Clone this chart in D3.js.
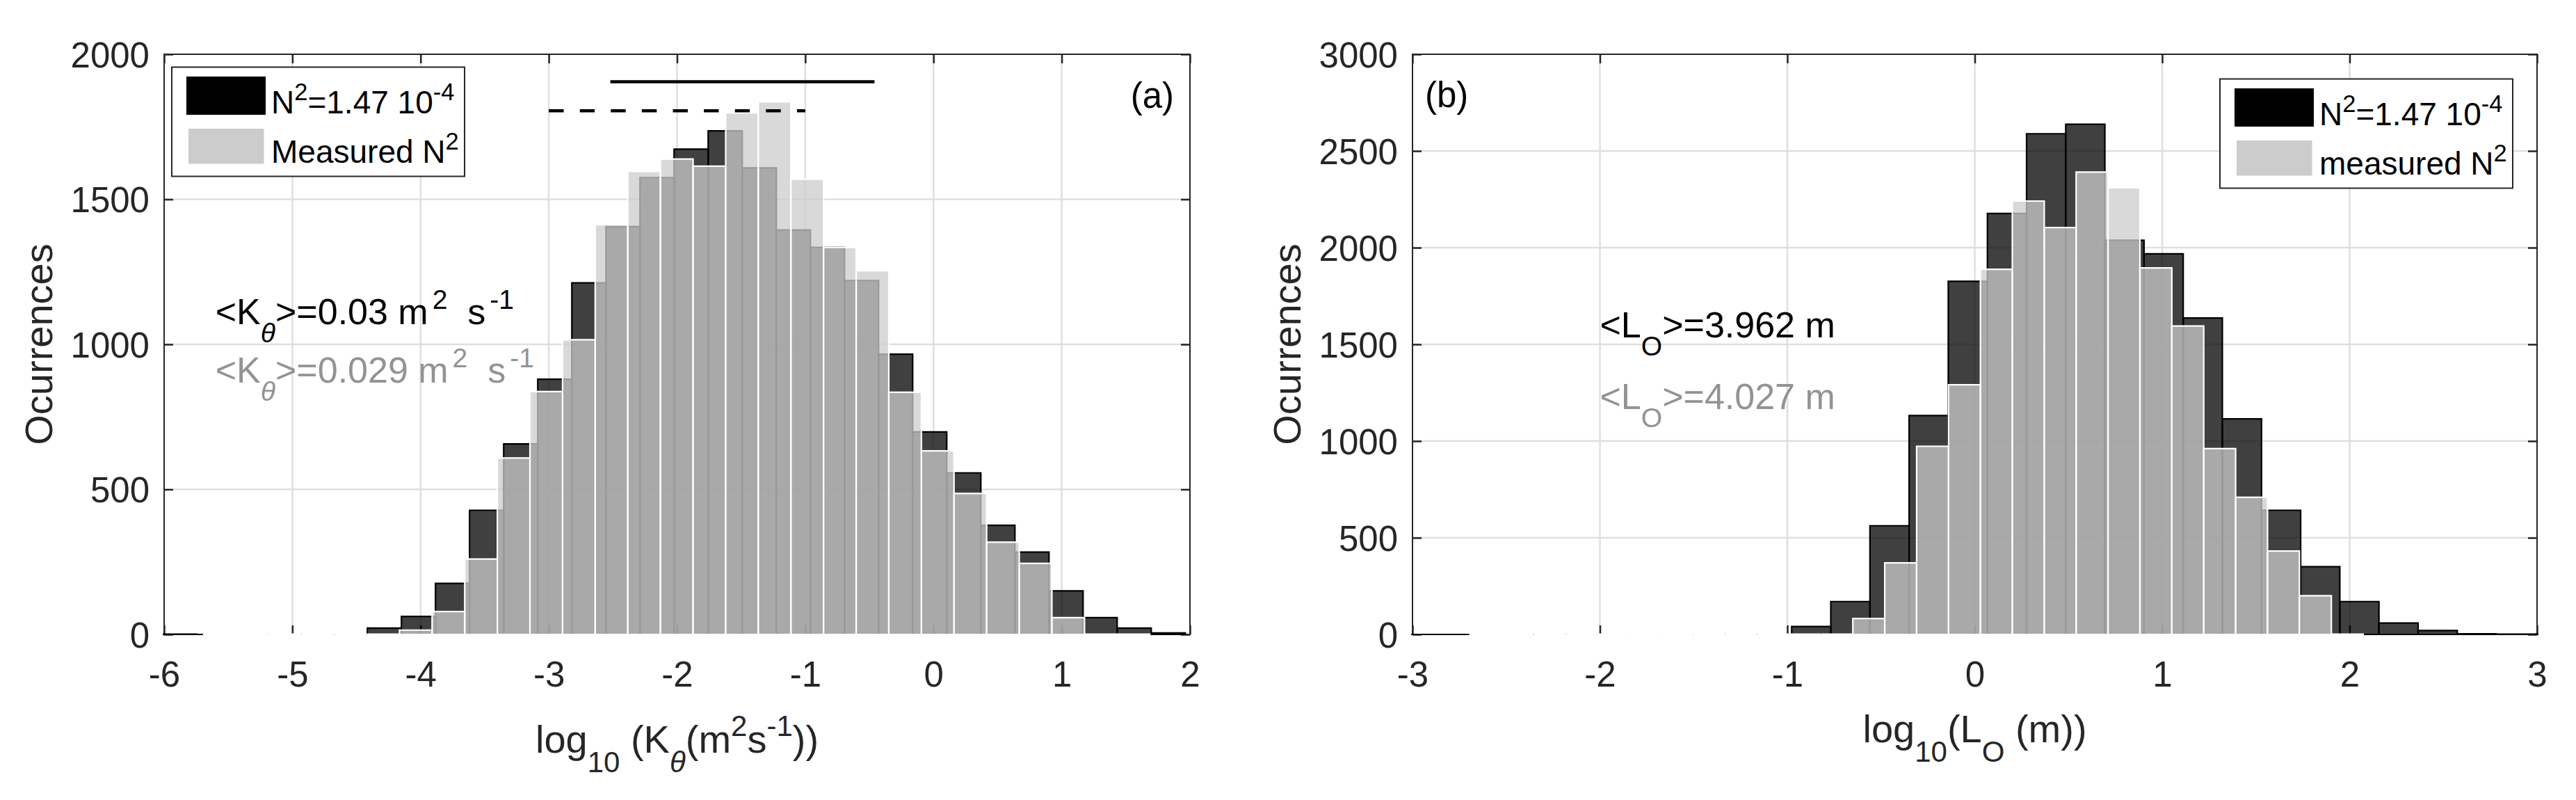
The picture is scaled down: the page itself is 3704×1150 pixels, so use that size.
<!DOCTYPE html>
<html><head><meta charset="utf-8">
<script src="https://cdn.jsdelivr.net/npm/d3@7"></script>
<style>
body{margin:0;background:#fff}
svg{display:block}
text{font-family:"Liberation Sans",Arial,Helvetica,sans-serif;white-space:pre}
</style>
</head><body>
<svg id="c" width="3704" height="1150"></svg>
<script>
// ---------- data : panel (a) ----------
const xTicksA = [-6,-5,-4,-3,-2,-1,0,1,2];
const yTicksA = [0,500,1000,1500,2000];
const darkStartA = -6.01, darkWidthA = 0.2658;
const darkCountsA = [1,0,0,0,0,0,22,62,176,428,657,880,1212,1406,1575,1673,1736,1608,1394,1334,1220,966,698,557,376,284,150,58,22,5];
const lightStartA = -5.691, lightWidthA = 0.2544;
const lightCountsA = [1,0,0,0,0,0,15,79,260,608,837,1016,1412,1596,1639,1614,1798,1836,1569,1334,1254,835,633,486,318,245,58,0,1];
const solidSpanA = [-2.52,-0.46], solidLevelA = 1905;
const dashSpanA = [-3.0,-1.0], dashLevelA = 1805;

// ---------- data : panel (b) ----------
const xTicksB = [-3,-2,-1,0,1,2,3];
const yTicksB = [0,500,1000,1500,2000,2500,3000];
const darkStartB = -3.066, darkWidthB = 0.2089;
const darkCountsB = [0,0,0,0,0,0,0,0,0,0,41,170,562,1132,1826,2177,2589,2638,2038,1968,1636,1115,642,350,170,59,20,3,1,1];
const lightStartB = -2.693, lightWidthB = 0.1702;
const lightCountsB = [1,0,0,0,0,0,0,0,0,0,0,0,82,370,973,1291,1888,2241,2104,2391,2310,1895,1595,961,709,431,200,1];

const legendLabelsA = [[["N"],["2","sup"],["=1.47 10"],["-4","sup"]], [["Measured N"],["2","sup"]]];
const legendLabelsB = [[["N"],["2","sup"],["=1.47 10"],["-4","sup"]], [["measured N"],["2","sup"]]];

// ---------- drawing ----------
const svg = d3.select('#c');
svg.append('rect').attr('width',3704).attr('height',1150).attr('fill','#fff');
const AX = '#262626';
const FS_TICK = 51, FS_LABEL = 56, FS_LEG = 46, FS_ANN = 52;

function rich(sel, parts, fs, supGap){
  let shift = 0;
  const gap = supGap || 0;
  parts.forEach(p => {
    const [t, kind, it] = p;
    const target = kind==='sup' ? -0.42*fs : kind==='sub' ? 0.5*fs : 0;
    const ts = sel.append('tspan').attr('dy', target-shift)
      .attr('font-size', kind ? fs*0.75 : fs).text(t);
    if (kind==='sup' && gap) ts.attr('dx', gap);
    if (it) ts.attr('font-style','italic');
    shift = target;
  });
  return sel;
}

function panel(cfg){
  const g = svg.append('g');
  const x = d3.scaleLinear().domain(cfg.xDomain).range([cfg.left,cfg.right]);
  const y = d3.scaleLinear().domain(cfg.yDomain).range([cfg.bottom,cfg.top]);
  const clipId = 'clip'+cfg.id;
  svg.append('clipPath').attr('id',clipId).append('rect')
    .attr('x',cfg.left-2).attr('y',cfg.top).attr('width',cfg.right-cfg.left+4).attr('height',cfg.bottom-cfg.top+4);

  // grid
  const grid = g.append('g').attr('stroke','#dfdfdf').attr('stroke-width',2.5);
  cfg.xTicks.filter(t=>t>cfg.xDomain[0]&&t<cfg.xDomain[1]).forEach(t=>{
    grid.append('line').attr('x1',x(t)).attr('x2',x(t)).attr('y1',cfg.top).attr('y2',cfg.bottom);
  });
  cfg.yTicks.filter(t=>t>cfg.yDomain[0]&&t<cfg.yDomain[1]).forEach(t=>{
    grid.append('line').attr('y1',y(t)).attr('y2',y(t)).attr('x1',cfg.left).attr('x2',cfg.right);
  });

  // axes (ticks inward on four sides)
  const fmt = d => String(d);
  const styleAxis = a => { a.select('.domain').remove(); a.selectAll('line').attr('stroke-width',2.5); a.attr('color',AX); };
  const ab = g.append('g').attr('transform',`translate(0,${cfg.bottom})`)
    .call(d3.axisBottom(x).tickValues(cfg.xTicks).tickFormat(fmt).tickSizeInner(-13).tickSizeOuter(0).tickPadding(39));
  styleAxis(ab); ab.selectAll('text').attr('font-size',FS_TICK).attr('font-family','"Liberation Sans",Arial,sans-serif').attr('fill',AX);
  const at = g.append('g').attr('transform',`translate(0,${cfg.top})`)
    .call(d3.axisTop(x).tickValues(cfg.xTicks).tickFormat('').tickSizeInner(-13).tickSizeOuter(0));
  styleAxis(at);
  const al = g.append('g').attr('transform',`translate(${cfg.left},0)`)
    .call(d3.axisLeft(y).tickValues(cfg.yTicks).tickFormat(fmt).tickSizeInner(-13).tickSizeOuter(0).tickPadding(21));
  styleAxis(al); al.selectAll('text').attr('font-size',FS_TICK).attr('font-family','"Liberation Sans",Arial,sans-serif').attr('fill',AX).attr('dy','0.36em');
  const ar = g.append('g').attr('transform',`translate(${cfg.right},0)`)
    .call(d3.axisRight(y).tickValues(cfg.yTicks).tickFormat('').tickSizeInner(-13).tickSizeOuter(0));
  styleAxis(ar);
  g.append('rect').attr('x',cfg.left).attr('y',cfg.top).attr('width',cfg.right-cfg.left).attr('height',cfg.bottom-cfg.top)
    .attr('fill','none').attr('stroke',AX).attr('stroke-width',2);

  // histograms
  const barPath = (x0,x1,c) => {
    const X0=x(x0), X1=x(x1), Y0=y(0);
    if (c===0) return `M${X0},${Y0}H${X1}`;
    return `M${X0},${Y0}V${y(c)}H${X1}V${Y0}Z`;
  };
  const bars = g.append('g').attr('clip-path',`url(#${clipId})`);
  bars.append('g').selectAll('path').data(cfg.darkCounts).join('path')
    .attr('d',(c,i)=>barPath(cfg.darkStart+i*cfg.darkWidth, cfg.darkStart+(i+1)*cfg.darkWidth, c))
    .attr('fill','rgba(0,0,0,0.75)').attr('stroke','#000').attr('stroke-width',2.2);
  bars.append('g').selectAll('path').data(cfg.lightCounts).join('path')
    .attr('d',(c,i)=>barPath(cfg.lightStart+i*cfg.lightWidth, cfg.lightStart+(i+1)*cfg.lightWidth, c))
    .attr('fill','rgba(204,204,204,0.75)').attr('stroke','#fff').attr('stroke-width',c=>c===0?3:2.2);

  // axis labels
  g.append('text').attr('transform',`translate(${cfg.yLabelX},${(cfg.top+cfg.bottom)/2}) rotate(-90)`)
    .attr('text-anchor','middle').attr('font-size',FS_LABEL).attr('fill',AX).text('Ocurrences');
  rich(g.append('text').attr('x',(cfg.left+cfg.right)/2).attr('y',cfg.xLabelY)
    .attr('text-anchor','middle').attr('fill',AX), cfg.xLabel, FS_LABEL);

  // legend
  const L = cfg.legend;
  const lg = g.append('g');
  lg.append('rect').attr('x',L.x).attr('y',L.y).attr('width',421).attr('height',157)
    .attr('fill','#fff').attr('stroke',AX).attr('stroke-width',2);
  lg.append('rect').attr('x',L.x+21).attr('y',L.y+13.5).attr('width',114).attr('height',55).attr('fill','#000');
  lg.append('rect').attr('x',L.x+24).attr('y',L.y+88.5).attr('width',108.5).attr('height',50.5).attr('fill','#ccc');
  rich(lg.append('text').attr('x',L.x+143).attr('y',L.y+66.5).attr('fill','#000'), L.labels[0], FS_LEG);
  rich(lg.append('text').attr('x',L.x+143).attr('y',L.y+137.5).attr('fill','#000'), L.labels[1], FS_LEG);

  return {g,x,y};
}

// ---- panel (a)
const A = panel({id:'a', xDomain:[-6,2], yDomain:[0,2000], left:236, right:1711, top:78, bottom:912,
  xTicks:xTicksA, yTicks:yTicksA,
  darkStart:darkStartA, darkWidth:darkWidthA, darkCounts:darkCountsA,
  lightStart:lightStartA, lightWidth:lightWidthA, lightCounts:lightCountsA,
  yLabelX:75, xLabelY:1082,
  xLabel:[["log"],["10","sub"],[" (K"],["θ","sub",true],["(m"],["2","sup"],["s"],["-1","sup"],["))"]],
  legend:{x:247, y:96.5, labels:legendLabelsA}
});
// range lines
A.g.append('line').attr('x1',A.x(solidSpanA[0])).attr('x2',A.x(solidSpanA[1]))
  .attr('y1',A.y(solidLevelA)).attr('y2',A.y(solidLevelA)).attr('stroke','#000').attr('stroke-width',4.5);
A.g.append('line').attr('x1',A.x(dashSpanA[0])).attr('x2',A.x(dashSpanA[1]))
  .attr('y1',A.y(dashLevelA)).attr('y2',A.y(dashLevelA)).attr('stroke','#000').attr('stroke-width',4.5)
  .attr('stroke-dasharray','21.4 23.2');
rich(A.g.append('text').attr('x',A.x(-5.6)).attr('y',A.y(1070)).attr('fill','#000'),
  [["<K"],["θ","sub",true],[">=0.03 m"],["2","sup"],["  s"],["-1","sup"]], FS_ANN, 6);
rich(A.g.append('text').attr('x',A.x(-5.6)).attr('y',A.y(868)).attr('fill','#939393'),
  [["<K"],["θ","sub",true],[">=0.029 m"],["2","sup"],["  s"],["-1","sup"]], FS_ANN, 6);
A.g.append('text').attr('x',1688).attr('y',155).attr('text-anchor','end').attr('font-size',51).attr('fill','#000').text('(a)');

// ---- panel (b)
const B = panel({id:'b', xDomain:[-3,3], yDomain:[0,3000], left:2031, right:3648, top:78, bottom:912,
  xTicks:xTicksB, yTicks:yTicksB,
  darkStart:darkStartB, darkWidth:darkWidthB, darkCounts:darkCountsB,
  lightStart:lightStartB, lightWidth:lightWidthB, lightCounts:lightCountsB,
  yLabelX:1870, xLabelY:1067,
  xLabel:[["log"],["10","sub"],["(L"],["O","sub"],[" (m))"]],
  legend:{x:3192, y:113.5, labels:legendLabelsB}
});
rich(B.g.append('text').attr('x',B.x(-2)).attr('y',B.y(1535)).attr('fill','#000'),
  [["<L"],["O","sub"],[">=3.962 m"]], FS_ANN);
rich(B.g.append('text').attr('x',B.x(-2)).attr('y',B.y(1165)).attr('fill','#939393'),
  [["<L"],["O","sub"],[">=4.027 m"]], FS_ANN);
B.g.append('text').attr('x',2049).attr('y',154).attr('font-size',51).attr('fill','#000').text('(b)');
</script>
</body></html>
